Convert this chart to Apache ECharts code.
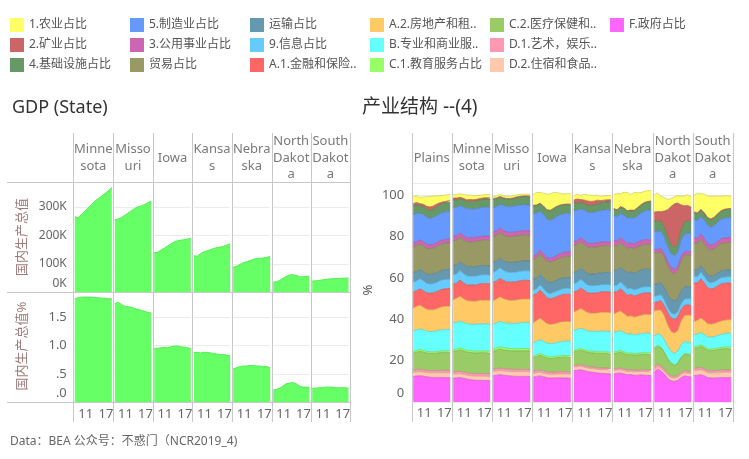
<!DOCTYPE html>
<html><head><meta charset="utf-8">
<script src="https://cdn.jsdelivr.net/npm/echarts@6/dist/echarts.min.js"></script>
<style>html,body{margin:0;padding:0;background:#fff}#c{width:749px;height:459px}</style>
</head><body><div id="c"></div>
<script>
// ---------- DATA ----------
const years = ['2007','2008','2009','2010','2011','2012','2013','2014','2015','2016','2017','2018'];
const stateHeaders = ['Minne\nsota','Misso\nuri','Iowa','Kansa\ns','Nebra\nska','North\nDakot\na','South\nDakot\na'];
const regionHeaders = ['Plains','Minne\nsota','Misso\nuri','Iowa','Kansa\ns','Nebra\nska','North\nDakot\na','South\nDakot\na'];

// GDP (K) per state
const gdpK = [
  [265,262,273,285,296,308,320,329,337,347,356,368],
  [254,257,262,270,278,286,294,300,303,308,314,320],
  [139,141,148,155,163,170,177,181,183,185,187,190],
  [129,127,135,142,146,150,154,157,159,162,166,170],
  [88,92,98,104,108,112,116,119,120,121,123,126],
  [36,38,42,50,57,61,62,60,55,55,56,57],
  [40,41,42,44,46,47,48,49,49,50,50,51]
];
// GDP share (%)
const gdpPct = [
  [1.82,1.84,1.85,1.85,1.85,1.85,1.84,1.84,1.83,1.83,1.82,1.82],
  [1.73,1.76,1.72,1.69,1.68,1.67,1.65,1.63,1.62,1.60,1.58,1.57],
  [0.95,0.95,0.96,0.97,0.96,0.98,0.99,0.99,0.98,0.97,0.96,0.95],
  [0.88,0.88,0.87,0.88,0.88,0.87,0.86,0.85,0.84,0.84,0.83,0.82],
  [0.59,0.61,0.63,0.64,0.64,0.65,0.65,0.64,0.64,0.63,0.63,0.61],
  [0.22,0.23,0.25,0.29,0.33,0.34,0.35,0.33,0.29,0.27,0.27,0.27],
  [0.25,0.25,0.26,0.26,0.27,0.27,0.27,0.26,0.26,0.26,0.26,0.25]
];

// industry shares, one row per region: Plains, MN, MO, IA, KS, NE, ND, SD
const agri = [
  [3.5,3.2,3.0,3.6,4.6,5.0,4.8,4.0,3.4,3.1,3.0,3.0],
  [1.6,1.8,1.6,1.9,2.2,2.2,2.0,1.8,1.6,1.5,1.5,1.5],
  [1.0,1.1,0.9,1.0,1.2,1.1,1.1,1.0,0.9,0.8,0.8,0.8],
  [5.3,6.0,5.2,6.2,7.5,8.0,7.6,6.5,5.5,5.0,5.0,5.0],
  [2.0,2.4,2.0,2.6,3.0,3.0,2.8,2.4,2.1,2.0,2.0,2.0],
  [6.8,7.8,6.2,7.6,8.8,7.5,8.6,7.2,5.8,5.4,5.2,5.0],
  [8.3,9.0,7.5,6.5,5.0,3.8,3.4,3.6,4.2,4.8,5.2,5.0],
  [8.0,9.5,7.5,9.0,10.5,11.0,10.0,8.5,7.0,6.5,6.2,6.0]
];
const mining = [
  [1.0,1.3,0.9,1.1,1.4,1.5,1.5,1.4,1.0,0.8,0.8,0.9],
  [0.8,0.9,0.7,0.8,0.9,0.9,0.8,0.8,0.6,0.6,0.6,0.6],
  [0.5,0.5,0.4,0.4,0.5,0.5,0.5,0.5,0.4,0.4,0.4,0.4],
  [0.3,0.3,0.3,0.3,0.3,0.3,0.3,0.3,0.3,0.3,0.3,0.3],
  [1.5,2.0,1.4,1.6,2.0,2.0,1.9,1.8,1.2,1.0,1.1,1.2],
  [0.3,0.3,0.3,0.3,0.3,0.3,0.3,0.3,0.3,0.3,0.3,0.3],
  [4.2,4.8,4.5,7.5,13.0,18.5,21.0,19.5,12.0,8.0,7.5,7.0],
  [0.5,0.5,0.4,0.4,0.5,0.5,0.5,0.5,0.4,0.4,0.4,0.4]
];
const construction = [
  [4.2,4.1,3.8,3.8,3.9,4.0,4.1,4.2,4.3,4.3,4.2,4.2],
  [3.7,3.6,3.3,3.3,3.4,3.6,3.7,3.8,3.9,4.0,4.0,4.0],
  [3.9,3.8,3.5,3.4,3.4,3.5,3.6,3.7,3.8,3.9,4.0,4.0],
  [3.7,3.8,3.6,3.8,4.2,4.6,4.8,4.6,4.4,4.3,4.2,4.2],
  [3.6,3.5,3.3,3.2,3.3,3.4,3.5,3.6,3.7,3.8,3.8,3.8],
  [3.2,3.2,3.1,3.2,3.3,3.4,3.5,3.6,3.8,3.9,4.0,4.0],
  [4.9,5.0,5.0,5.0,4.8,4.3,4.0,4.3,5.2,5.8,5.8,5.7],
  [3.2,3.3,3.2,3.2,3.3,3.5,3.6,3.7,3.8,3.9,4.0,4.0]
];
const manufacturing = [
  [13.7,13.5,12.8,13.2,13.0,12.8,12.9,13.0,13.2,13.3,13.4,13.5],
  [14.0,13.8,13.2,13.8,14.0,14.0,13.8,13.8,13.9,13.9,14.0,14.0],
  [11.8,11.6,11.4,12.0,12.3,12.4,12.5,12.6,12.6,12.5,12.5,12.5],
  [20.5,19.8,18.8,19.0,18.6,18.4,18.5,18.8,18.8,18.6,18.5,18.5],
  [15.0,14.6,13.8,14.6,15.0,15.0,15.0,15.2,15.2,15.3,15.4,15.5],
  [12.0,11.6,11.8,12.2,12.4,12.0,12.5,12.8,13.3,13.8,14.2,14.5],
  [8.9,8.6,8.2,8.0,7.2,6.6,6.5,6.8,7.8,8.5,8.8,8.9],
  [8.9,8.6,8.4,8.8,8.8,8.7,8.9,9.2,9.4,9.6,9.7,9.7]
];
const utilities = [
  [2.0,2.1,2.1,2.0,2.0,1.9,1.9,2.0,1.9,1.9,1.9,1.9],
  [2.1,2.1,2.2,2.1,2.0,2.0,2.0,2.0,2.0,2.0,2.0,2.0],
  [2.1,2.2,2.3,2.2,2.1,2.1,2.1,2.1,2.1,2.1,2.0,2.0],
  [1.6,1.7,1.8,1.8,1.8,1.8,1.9,2.0,2.1,2.2,2.3,2.4],
  [1.9,1.9,2.0,2.0,1.9,1.9,1.9,1.9,1.9,1.9,1.9,1.9],
  [2.4,2.4,2.5,2.5,2.4,2.4,2.4,2.4,2.3,2.3,2.3,2.3],
  [1.6,1.6,1.8,1.8,2.0,2.2,2.4,2.2,2.0,1.8,1.7,1.6],
  [2.4,2.4,2.5,2.5,2.4,2.3,2.3,2.3,2.3,2.3,2.3,2.3]
];
const trade = [
  [12.5,12.4,12.3,12.4,12.4,12.5,12.5,12.6,12.7,12.7,12.8,12.8],
  [12.0,11.9,11.8,11.9,12.0,12.0,12.1,12.1,12.1,12.2,12.2,12.2],
  [12.5,12.4,12.3,12.4,12.4,12.5,12.5,12.6,12.6,12.6,12.6,12.6],
  [9.7,9.8,9.9,9.8,9.8,9.9,10.0,10.1,10.1,10.2,10.2,10.2],
  [13.0,12.9,12.8,12.8,12.8,12.9,13.0,13.0,13.0,13.0,13.0,13.0],
  [12.0,11.8,11.8,11.9,11.8,11.8,11.8,11.9,12.0,12.0,12.0,12.0],
  [15.4,15.0,14.8,14.6,14.0,13.3,13.0,13.4,14.6,15.2,15.4,15.4],
  [13.0,12.8,12.8,12.8,12.7,12.7,12.9,13.0,13.2,13.3,13.3,13.3]
];
const transport = [
  [4.6,4.5,4.4,4.5,4.5,4.6,4.6,4.7,4.6,4.7,4.7,4.7],
  [4.5,4.4,4.3,4.4,4.5,4.6,4.6,4.6,4.5,4.5,4.5,4.5],
  [4.9,4.8,4.6,4.7,4.8,4.8,4.8,4.9,4.8,4.8,4.8,4.8],
  [5.3,5.2,5.1,5.2,5.3,5.3,5.2,5.2,5.2,5.2,5.2,5.2],
  [5.5,5.4,5.3,5.4,5.5,5.6,5.6,5.7,5.7,5.8,5.8,5.8],
  [7.3,7.2,7.0,7.3,7.6,7.9,8.0,8.3,8.4,8.5,8.5,8.5],
  [5.7,5.6,5.8,6.0,6.3,6.5,6.5,6.5,6.2,5.9,5.8,5.7],
  [3.2,3.2,3.1,3.1,3.2,3.2,3.2,3.3,3.3,3.3,3.3,3.3]
];
const information = [
  [4.8,4.8,4.9,4.8,4.6,4.5,4.5,4.5,4.5,4.5,4.5,4.5],
  [4.5,4.5,4.6,4.5,4.4,4.3,4.3,4.3,4.3,4.3,4.3,4.3],
  [4.9,5.0,5.1,4.9,4.8,4.7,4.7,4.6,4.6,4.6,4.6,4.6],
  [2.3,2.4,2.5,2.5,2.5,2.6,2.7,2.7,2.8,2.8,2.9,2.9],
  [4.0,4.1,4.2,4.0,3.8,3.7,3.6,3.6,3.5,3.5,3.5,3.5],
  [3.2,3.2,3.3,3.2,3.1,3.0,3.0,3.0,3.0,3.0,3.0,3.0],
  [3.2,3.1,3.0,2.8,2.6,2.4,2.4,2.5,2.8,3.0,3.1,3.2],
  [3.2,3.2,3.3,3.2,3.1,3.0,3.0,3.0,3.0,3.0,3.0,3.0]
];
const finance = [
  [7.8,7.6,7.9,8.0,8.0,8.0,8.2,8.3,8.4,8.5,8.5,8.5],
  [7.6,7.3,7.8,7.7,7.6,7.7,7.8,7.8,7.9,8.0,8.0,8.0],
  [8.9,8.6,8.9,8.8,8.7,8.8,8.9,8.9,9.0,9.0,9.0,9.0],
  [13.4,13.0,13.6,13.2,12.6,12.4,12.6,12.9,13.0,13.2,13.2,13.2],
  [9.7,9.5,9.9,9.8,9.6,9.6,9.7,9.8,9.9,10.0,10.0,10.0],
  [10.5,10.0,10.7,10.5,10.2,10.3,10.2,10.3,10.4,10.5,10.5,10.5],
  [4.0,4.0,4.5,5.0,5.8,6.5,6.8,6.5,5.6,5.0,4.9,4.9],
  [18.6,18.0,19.0,18.2,17.4,17.0,17.2,17.6,18.0,17.9,17.8,17.8]
];
const realEstate = [
  [11.0,11.3,11.5,11.0,10.6,10.5,10.5,10.7,11.0,11.2,11.3,11.3],
  [11.3,11.6,12.0,11.5,11.2,11.2,11.2,11.3,11.4,11.5,11.5,11.5],
  [11.3,11.6,12.0,11.6,11.3,11.2,11.2,11.3,11.4,11.5,11.5,11.5],
  [9.7,10.0,10.4,9.9,9.5,9.3,9.3,9.4,9.5,9.5,9.5,9.5],
  [8.9,9.2,9.6,9.2,8.9,8.8,8.8,8.9,9.0,9.1,9.2,9.2],
  [8.9,9.3,9.6,9.1,8.7,8.8,8.6,8.7,8.9,9.0,9.0,9.0],
  [12.0,11.5,12.0,11.5,10.5,9.8,9.7,10.0,11.5,12.5,13.0,13.0],
  [6.5,6.7,7.0,6.7,6.4,6.3,6.3,6.4,6.5,6.5,6.5,6.5]
];
const business = [
  [10.0,10.1,10.0,9.9,9.8,9.8,9.9,10.0,10.2,10.3,10.4,10.5],
  [13.0,13.0,13.0,12.9,12.8,12.8,12.9,13.0,13.1,13.1,13.1,13.1],
  [12.1,12.2,12.2,12.1,12.1,12.1,12.2,12.3,12.4,12.5,12.5,12.5],
  [6.5,6.6,6.7,6.5,6.4,6.4,6.5,6.6,6.8,6.9,7.0,7.0],
  [9.7,9.7,9.8,9.8,9.6,9.6,9.7,9.9,10.1,10.0,10.0,10.0],
  [9.7,9.6,9.6,9.4,9.2,9.2,9.1,9.2,9.3,9.4,9.5,9.5],
  [5.7,5.6,5.8,5.8,5.6,5.5,5.5,5.6,5.8,5.8,5.7,5.7],
  [5.7,5.8,5.9,5.8,5.7,5.8,5.9,6.1,6.3,6.5,6.7,6.8]
];
const education = [
  [0.8,0.8,0.9,0.9,0.8,0.8,0.8,0.8,0.8,0.8,0.8,0.8],
  [0.9,0.9,1.0,1.0,0.9,0.9,0.9,0.9,0.9,0.9,0.9,0.9],
  [1.1,1.1,1.2,1.2,1.1,1.1,1.1,1.1,1.1,1.1,1.1,1.1],
  [0.8,0.8,0.9,0.9,0.8,0.8,0.8,0.8,0.8,0.8,0.8,0.8],
  [0.8,0.8,0.8,0.8,0.8,0.8,0.8,0.8,0.8,0.8,0.8,0.8],
  [0.8,0.8,0.8,0.8,0.8,0.8,0.8,0.8,0.8,0.8,0.8,0.8],
  [0.5,0.5,0.5,0.5,0.5,0.5,0.5,0.5,0.5,0.5,0.5,0.5],
  [0.8,0.8,0.8,0.8,0.8,0.8,0.8,0.8,0.8,0.8,0.8,0.8]
];
const health = [
  [8.2,8.4,8.7,8.5,8.3,8.3,8.3,8.4,8.5,8.6,8.6,8.6],
  [9.7,9.9,10.3,10.1,10.0,10.0,10.0,10.0,10.0,10.0,10.0,10.0],
  [8.6,8.8,9.2,9.0,8.9,8.9,8.9,8.9,9.0,9.0,9.0,9.0],
  [6.5,6.7,7.1,6.9,6.7,6.6,6.7,6.8,6.9,7.0,7.0,7.0],
  [6.5,6.7,7.0,6.9,6.8,6.8,6.8,6.9,7.0,7.0,7.0,7.0],
  [7.3,7.4,7.7,7.5,7.2,7.3,7.2,7.3,7.4,7.5,7.5,7.5],
  [8.9,8.6,8.8,8.0,6.8,5.8,5.2,5.6,7.0,7.8,8.0,8.0],
  [9.7,9.8,10.2,10.0,9.7,9.7,9.8,10.0,10.2,10.3,10.3,10.3]
];
const arts = [
  [1.1,1.1,1.1,1.1,1.1,1.1,1.1,1.1,1.2,1.2,1.2,1.2],
  [1.2,1.2,1.2,1.2,1.2,1.2,1.2,1.2,1.3,1.3,1.3,1.3],
  [1.1,1.1,1.1,1.1,1.1,1.1,1.1,1.1,1.1,1.1,1.1,1.1],
  [1.1,1.1,1.1,1.1,1.0,1.0,1.0,1.0,1.1,1.1,1.1,1.1],
  [0.8,0.8,0.8,0.8,0.8,0.8,0.8,0.8,0.8,0.8,0.8,0.8],
  [0.8,0.8,0.8,0.8,0.8,0.8,0.8,0.8,0.8,0.8,0.8,0.8],
  [1.3,1.2,1.2,1.1,1.0,0.9,0.8,0.9,1.0,1.0,1.0,1.0],
  [1.1,1.1,1.1,1.1,1.1,1.1,1.1,1.1,1.1,1.1,1.1,1.1]
];
const food = [
  [2.0,2.0,2.0,2.0,2.1,2.1,2.2,2.2,2.3,2.3,2.3,2.3],
  [1.9,1.9,1.9,1.9,1.9,2.0,2.0,2.0,2.1,2.1,2.1,2.1],
  [2.1,2.1,2.1,2.1,2.2,2.2,2.2,2.3,2.3,2.3,2.3,2.3],
  [1.8,1.8,1.8,1.8,1.8,1.8,1.9,1.9,1.9,2.0,2.0,2.0],
  [1.7,1.7,1.7,1.7,1.7,1.7,1.8,1.8,1.8,1.9,1.9,1.9],
  [1.6,1.6,1.6,1.6,1.6,1.6,1.7,1.7,1.7,1.8,1.8,1.8],
  [1.1,1.1,1.2,1.3,1.5,1.6,1.6,1.6,1.6,1.6,1.6,1.6],
  [2.4,2.4,2.4,2.4,2.4,2.4,2.5,2.5,2.5,2.6,2.6,2.6]
];
const government = [
  [12.3,12.6,12.7,12.5,12.2,12.0,11.9,11.9,11.9,11.8,11.8,11.8],
  [11.5,11.7,11.8,11.5,11.1,10.8,10.6,10.5,10.5,10.4,10.4,10.3],
  [12.7,13.0,13.2,13.0,12.8,12.6,12.5,12.4,12.4,12.4,12.4,12.3],
  [12.0,12.4,12.6,12.2,11.8,11.6,11.6,11.7,11.7,11.6,11.6,11.5],
  [15.2,15.4,15.6,15.2,14.8,14.5,14.3,14.0,13.9,13.8,13.7,13.5],
  [13.6,13.9,14.0,13.6,13.2,13.3,12.9,13.0,13.1,13.0,12.9,12.8],
  [14.5,16.0,15.0,13.5,11.5,10.2,10.0,10.4,11.8,12.6,12.3,12.1],
  [12.8,13.0,13.2,12.6,11.8,11.6,11.6,11.7,11.8,11.8,11.8,11.8]
];

// stacking order: bottom -> top
const industries = [
  {name:'F.政府占比', data:government, color:'#ff66ff'},
  {name:'D.2.住宿和食品..', data:food, color:'#ffc9ad'},
  {name:'D.1.艺术，娱乐..', data:arts, color:'#ff99b3'},
  {name:'C.2.医疗保健和..', data:health, color:'#99cc66'},
  {name:'C.1.教育服务占比', data:education, color:'#99ff66'},
  {name:'B.专业和商业服..', data:business, color:'#66ffff'},
  {name:'A.2.房地产和租..', data:realEstate, color:'#ffc966'},
  {name:'A.1.金融和保险..', data:finance, color:'#ff6666'},
  {name:'9.信息占比', data:information, color:'#66ccff'},
  {name:'运输占比', data:transport, color:'#6699b0'},
  {name:'贸易占比', data:trade, color:'#999966'},
  {name:'3.公用事业占比', data:utilities, color:'#cc66b3'},
  {name:'5.制造业占比', data:manufacturing, color:'#6699ff'},
  {name:'4.基础设施占比', data:construction, color:'#669966'},
  {name:'2.矿业占比', data:mining, color:'#cc6666'},
  {name:'1.农业占比', data:agri, color:'#ffff66'}
];
const legendColumns = [
  ['1.农业占比','2.矿业占比','4.基础设施占比'],
  ['5.制造业占比','3.公用事业占比','贸易占比'],
  ['运输占比','9.信息占比','A.1.金融和保险..'],
  ['A.2.房地产和租..','B.专业和商业服..','C.1.教育服务占比'],
  ['C.2.医疗保健和..','D.1.艺术，娱乐..','D.2.住宿和食品..'],
  ['F.政府占比']
];

// ---------- LAYOUT ----------
const FONT = '"Noto Sans","Noto Sans CJK SC",sans-serif';
const colsL = [73.3,113.3,152.7,192.3,231.7,271.7,310.7,350];
const colsR = [411.7,451.7,491.7,531.7,572.3,612.3,652.7,692.7,732.7];
const legendX = [10,130,250,370,490,610];

function darken(hex, f){
  const n = parseInt(hex.slice(1),16);
  const r = Math.round(((n>>16)&255)*f), g = Math.round(((n>>8)&255)*f), b = Math.round((n&255)*f);
  return 'rgb('+r+','+g+','+b+')';
}

const grids=[], xAxes=[], yAxes=[], series=[];
function addPanel(left, top, width, height, yOpt, labelOpt, showY, showX){
  const gi = grids.length;
  grids.push({left, top, width, height, outerBoundsMode:'none', containLabel:false});
  xAxes.push({type:'category', gridIndex:gi, data:years, boundaryGap:false,
    axisLine:{show:false}, axisTick:{show:false}, splitLine:{show:false},
    axisLabel:{show:showX, margin:5, padding:[0,5,0,0], color:'#666', fontSize:13, fontFamily:FONT,
      interval:(i,v)=> v==='2011'||v==='2017', formatter:v=>v.slice(2)}});
  yAxes.push(Object.assign({type:'value', gridIndex:gi,
    axisLine:{show:false}, axisTick:{show:false},
    splitLine:{show:true, lineStyle:{color:'#ebebeb', width:1}},
    axisLabel:Object.assign({show:showY, color:'#666', fontFamily:FONT, showMaxLabel:false}, labelOpt)}, yOpt));
  return gi;
}
function zeroRich(size, pad){ return {z:{padding:[0,0,pad,0], fontSize:size, color:'#666', fontFamily:FONT}}; }

// left: GDP
for(let c=0;c<7;c++){
  const left = colsL[c]+1.5, width = colsL[c+1]-colsL[c]-3;
  const gTop = addPanel(left, 182.5, width, 110, {min:0, max:385, interval:100},
    {fontSize:12, margin:8, formatter:v=> v===0 ? '{z|0K}' : v+'K', rich:zeroRich(12,17)}, c===0, false);
  series.push({type:'line', xAxisIndex:gTop, yAxisIndex:gTop, data:gdpK[c], symbol:'none',
    lineStyle:{color:'#55ee55', width:1}, areaStyle:{color:'#66ff66', opacity:1}, itemStyle:{color:'#66ff66'}, silent:true});
  const gBot = addPanel(left, 292.5, width, 110, {min:0, max:1.93, interval:0.5},
    {fontSize:13, margin:8, formatter:v=> v===0 ? '{z|.0}' : v.toFixed(1).replace(/^0/,''), rich:zeroRich(13,18)}, c===0, true);
  series.push({type:'line', xAxisIndex:gBot, yAxisIndex:gBot, data:gdpPct[c], symbol:'none',
    lineStyle:{color:'#55ee55', width:1}, areaStyle:{color:'#66ff66', opacity:1}, itemStyle:{color:'#66ff66'}, silent:true});
}
// right: industry structure
for(let c=0;c<8;c++){
  const left = colsR[c]+1.5, width = colsR[c+1]-colsR[c]-3;
  const gi = addPanel(left, 183, width, 219, {min:0, max:106, interval:20},
    {fontSize:13, margin:9, formatter:v=> v===0 ? '{z|0}' : String(v), rich:zeroRich(13,17)}, c===0, true);
  industries.forEach(ind=>{
    series.push({type:'line', name:ind.name, xAxisIndex:gi, yAxisIndex:gi, stack:'s'+c,
      data:ind.data[c], symbol:'none', showSymbol:false,
      lineStyle:{color:darken(ind.color,0.8), width:0.7},
      areaStyle:{color:ind.color, opacity:1}, itemStyle:{color:ind.color}, silent:true});
  });
}

// frame, headers, titles
const gfx=[];
const LC='#c8c8c8';
function vline(x,y1,y2){ const xx=Math.round(x)+0.5; gfx.push({type:'line', silent:true, z:10, shape:{x1:xx,y1,x2:xx,y2}, style:{stroke:LC,lineWidth:1}}); }
function hline(y,x1,x2){ const yy=Math.round(y)+0.5; gfx.push({type:'line', silent:true, z:10, shape:{x1,y1:yy,x2,y2:yy}, style:{stroke:LC,lineWidth:1}}); }
function txt(x,y,t,font,fill,align,rot){
  gfx.push({type:'text', silent:true, z:11, x, y, rotation:rot||0,
    style:{text:t, font, fill, align:align||'center', textAlign:align||'center', verticalAlign:'middle', textVerticalAlign:'middle', lineHeight:16.5}});
}
colsL.forEach(x=>vline(x,133,422));
hline(182,7,350); hline(292,7,350); hline(402,7,350);
colsR.forEach(x=>vline(x,133,422));
stateHeaders.forEach((h,i)=>txt((colsL[i]+colsL[i+1])/2, 158, h, '13px '+FONT, '#7a7a7a'));
regionHeaders.forEach((h,i)=>txt((colsR[i]+colsR[i+1])/2, 158, h, '13px '+FONT, '#7a7a7a'));
txt(12,108,'GDP (State)','18px '+FONT,'#333','left');
txt(362,108,'产业结构 --(4)','19px '+FONT,'#333','left');
txt(22,237,'国内生产总值','13px '+FONT,'#a07a78','center',Math.PI/2);
txt(22,346,'国内生产总值%','13px '+FONT,'#a07a78','center',Math.PI/2);
txt(368,290,'%','13px '+FONT,'#555','center',Math.PI/2);
txt(10,442,'Data：BEA 公众号：不惑门（NCR2019_4)','12px '+FONT,'#666','left');

const chart = echarts.init(document.getElementById('c'));
chart.setOption({
  animation:false,
  backgroundColor:'#fff',
  legend: legendColumns.map((d,i)=>({data:d, orient:'vertical', left:legendX[i], top:18, padding:0,
    itemWidth:14, itemHeight:14, itemGap:6, icon:'rect', selectedMode:false,
    textStyle:{color:'#555', fontSize:12, fontFamily:FONT}})),
  grid:grids, xAxis:xAxes, yAxis:yAxes, series, graphic:gfx
});
</script></body></html>
